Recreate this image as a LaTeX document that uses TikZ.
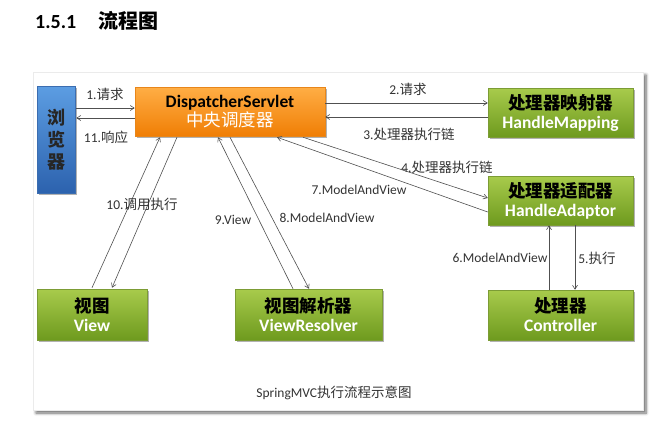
\documentclass[tikz,border=0pt]{standalone}
\usepackage{fontspec}
\setmainfont{Carlito}
\newfontfamily\cjk{Noto Sans CJK SC}
\usetikzlibrary{arrows.meta,calc,shadows,shadows.blur}

\newcommand{\zh}[1]{{\cjk #1}}

\definecolor{greenTop}{HTML}{A8CB4C}
\definecolor{greenBot}{HTML}{6E9A1E}
\definecolor{greenEdge}{HTML}{7C9C35}
\definecolor{orangeTop}{HTML}{FFAE45}
\definecolor{orangeBot}{HTML}{F07E05}
\definecolor{orangeEdge}{HTML}{E8861A}
\definecolor{blueTop}{HTML}{5C9DE2}
\definecolor{blueBot}{HTML}{2C62AE}
\definecolor{blueEdge}{HTML}{3B6DB0}
\definecolor{lineGray}{HTML}{505050}

\tikzset{
    >={Straight Barb[length=4pt,width=5pt]},
    flow/.style={->, draw=lineGray, line width=0.6pt},
    boxshadow/.style={drop shadow={shadow xshift=1.5pt, shadow yshift=-2pt, opacity=0.3, fill=black}},
    greenbox/.style={draw=greenEdge, line width=0.5pt, top color=greenTop, bottom color=greenBot,
        boxshadow, minimum width=145pt, minimum height=49pt, inner sep=0pt, align=center,
        font=\bfseries\fontsize{17.5}{19}\selectfont},
    flowlabel/.style={inner sep=0pt, text=black!80, font=\fontsize{13.5}{15}\selectfont}
}

\begin{document}
\begin{tikzpicture}[x=1pt, y=-1pt]
    \useasboundingbox (0,0) rectangle (672,423);

    % Panel
    \filldraw[fill=white, draw=black!8, blur shadow={shadow xshift=3pt, shadow yshift=-3pt, shadow blur radius=3pt, shadow blur steps=6, shadow opacity=60}] (33,72) rectangle (643,410);

    % Title
    \node[anchor=west, inner sep=0pt, font=\bfseries\fontsize{20}{22}\selectfont] (title) at (35,21) {1.5.1\hspace{22pt}\zh{流程图}};

    % Boxes
    \node[draw=blueEdge, line width=0.5pt, top color=blueTop, bottom color=blueBot, boxshadow,
        minimum width=38pt, minimum height=107pt, inner sep=0pt, align=center, text=black!85,
        font=\cjk\bfseries\fontsize{18}{22}\selectfont] (browser) at (56,139.5) {浏\\览\\器};

    \node[draw=orangeEdge, line width=0.5pt, top color=orangeTop, bottom color=orangeBot, boxshadow,
        minimum width=190pt, minimum height=49pt, inner sep=0pt, align=center,
        font=\bfseries\fontsize{17.5}{19}\selectfont] (disp) at (230,111.5)
        {DispatcherServlet\\\textcolor{white}{\mdseries\zh{中央调度器}}};

    \node[greenbox] (hmap) at (560.5,112.5) {\zh{处理器映射器}\\\textcolor{white}{HandleMapping}};
    \node[greenbox] (hadapt) at (560.5,200.5) {\zh{处理器适配器}\\\textcolor{white}{HandleAdaptor}};
    \node[greenbox, minimum height=50pt] (ctrl) at (560.5,315) {\zh{处理器}\\\textcolor{white}{Controller}};
    \node[greenbox, minimum width=110pt, minimum height=51pt] (view) at (92,314.5) {\zh{视图}\\\textcolor{white}{View}};
    \node[greenbox, minimum width=147pt, minimum height=51pt] (vres) at (308.5,314.5) {\zh{视图解析器}\\\textcolor{white}{ViewResolver}};

    % Draw
    \draw[flow] ($(browser.east)+(1,-31.5)$) -- ($(disp.west)+(0,-3.5)$);
    \draw[flow] ($(disp.west)+(0,6.5)$) -- ($(browser.east)+(1,-21.5)$);

    \draw[flow] ($(disp.east)+(0,-8.5)$) -- ($(hmap.west)+(0,-9.5)$);
    \draw[flow] ($(hmap.west)+(0,4.5)$) -- ($(disp.east)+(0,5.5)$);

    \draw[flow] ($(disp.south)+(73,1)$) -- ($(hadapt.west)+(0,-2.5)$);
    \draw[flow] ($(hadapt.west)+(0,11.5)$) -- ($(disp.south)+(47,1)$);

    \draw[flow] ($(hadapt.south)+(14.5,0)$) -- ($(ctrl.north)+(14.5,0)$);
    \draw[flow] ($(ctrl.north)+(-11.5,0)$) -- ($(hadapt.south)+(-11.5,0)$);

    \draw[flow] ($(disp.south)+(0,1)$) -- ($(vres.north)+(0.5,0)$);
    \draw[flow] ($(vres.north)+(-15.5,0)$) -- ($(disp.south)+(-12,1)$);

    \draw[flow] ($(view.north)+(0,-1)$) -- ($(disp.south)+(-70,1)$);
    \draw[flow] ($(disp.south)+(-53,1)$) -- ($(view.north)+(20,-1)$);

    % Labeling
    \foreach \name/\x/\y/\txt in {labReq/105/94/{1.\zh{请求}}, labResp/106/137/{11.\zh{响应}},
        labMapReq/408/89/{2.\zh{请求}}, labChainA/409/134/{3.\zh{处理器执行链}},
        labChainB/447/167/{4.\zh{处理器执行链}}, labMavA/359/190/{7.ModelAndView},
        labCall/142/204/{10.\zh{调用执行}}, labView/233/220/{9.View},
        labMavB/327/218/{8.ModelAndView}, labMavC/500/258/{6.ModelAndView},
        labExec/597/258/{5.\zh{执行}}, caption/334/393/{SpringMVC\zh{执行流程示意图}}}
        \node[flowlabel] (\name) at (\x,\y) {\txt};
\end{tikzpicture}
\end{document}
